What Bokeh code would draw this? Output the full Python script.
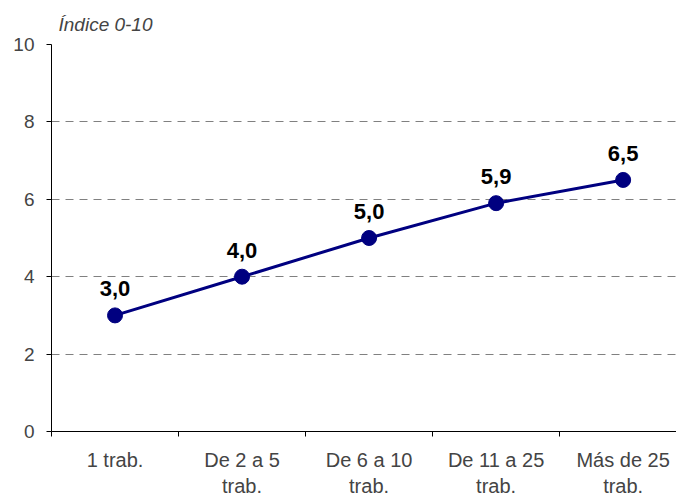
from bokeh.plotting import figure
from bokeh.models import ColumnDataSource, FixedTicker, Range1d
from bokeh.core.properties import value
from bokeh.embed import file_html
from bokeh.resources import INLINE

categories = ["1 trab.", "De 2 a 5\ntrab.", "De 6 a 10\ntrab.", "De 11 a 25\ntrab.", "Más de 25\ntrab."]
values = [3.0, 4.0, 5.0, 5.9, 6.5]
labels = ["3,0", "4,0", "5,0", "5,9", "6,5"]
y_ticks = [0, 2, 4, 6, 8, 10]

xs = list(range(len(categories)))
src = ColumnDataSource(dict(x=xs, y=values, lab=labels))

FONT = "Liberation Sans"
p = figure(width=676, height=499, output_backend="svg", toolbar_location=None,
           x_range=Range1d(-0.5, 4.42), y_range=Range1d(0, 10),
           min_border_left=51, min_border_right=0, min_border_top=44, min_border_bottom=67)
p.outline_line_color = None
p.background_fill_color = "white"

p.title.text = "Índice 0-10"
p.title.text_font = FONT
p.title.text_font_style = "italic"
p.title.text_font_size = "19px"
p.title.align = "left"
p.title.offset = 7
p.title.standoff = 20

p.line("x", "y", source=src, line_color="#000080", line_width=3)
p.scatter("x", "y", source=src, size=15, fill_color="#000080", line_color="#000080")
p.text("x", "y", text="lab", source=src, text_font=value(FONT), text_font_style="bold",
       text_font_size="22px", text_align="center", text_baseline="bottom", y_offset=-19,
       text_color="black")

p.xaxis.ticker = FixedTicker(ticks=xs, minor_ticks=[i - 0.5 for i in range(len(categories) + 1)])
p.xaxis.major_label_overrides = {i: c for i, c in enumerate(categories)}
p.xaxis.major_tick_out = 0
p.xaxis.major_tick_in = 0
p.xaxis.minor_tick_out = 5
p.xaxis.minor_tick_in = 0
p.xaxis.minor_tick_line_color = "black"
p.xaxis.major_label_text_font = FONT
p.xaxis.major_label_text_font_size = "20px"
p.xaxis.major_label_standoff = 12
p.xaxis.axis_line_color = "black"

p.yaxis.ticker = FixedTicker(ticks=y_ticks)
p.yaxis.major_tick_out = 5
p.yaxis.major_tick_in = 0
p.yaxis.minor_tick_line_color = None
p.yaxis.major_label_text_font = FONT
p.yaxis.major_label_text_font_size = "19px"
p.yaxis.major_label_standoff = 12
p.yaxis.axis_line_color = "black"
p.yaxis.major_tick_line_color = "black"

p.xgrid.grid_line_color = None
p.ygrid.ticker = FixedTicker(ticks=y_ticks[1:])
p.ygrid.grid_line_color = "#808080"
p.ygrid.grid_line_dash = "8 6"
p.ygrid.grid_line_width = 1

open("out.html", "w").write(file_html(p, INLINE))
